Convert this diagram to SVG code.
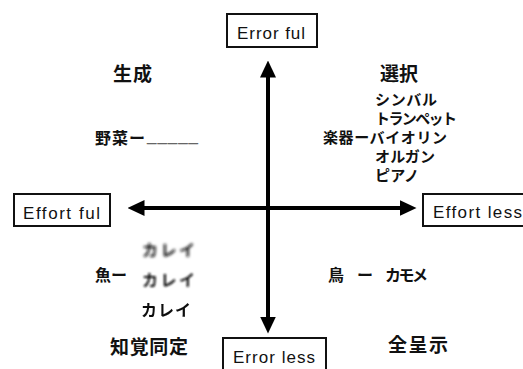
<svg xmlns="http://www.w3.org/2000/svg" width="523" height="369" viewBox="0 0 523 369">
<style>
.box{fill:#fff;stroke:#111;stroke-width:2}
.en{font-family:"Liberation Sans","Noto Sans",sans-serif;font-size:17px;fill:#111}
.jp{font-family:"Noto Sans CJK JP","Noto Sans CJK SC",sans-serif;fill:#111}
.h{font-size:19px;font-weight:700}
.it{font-size:16px;font-weight:700}
.li{font-size:15px;font-weight:700}
.ax{stroke:#000;stroke-width:4;fill:none}
</style>
<defs>
<marker id="ah" markerUnits="userSpaceOnUse" markerWidth="17" markerHeight="16" viewBox="0 0 17 16" refX="0.5" refY="8" orient="auto-start-reverse">
<path d="M0,0 L17,8 L0,16 z" fill="#000"/>
</marker>
<filter id="b1" x="-20%" y="-50%" width="140%" height="200%"><feGaussianBlur stdDeviation="1.6"/></filter>
<filter id="b2" x="-20%" y="-50%" width="140%" height="200%"><feGaussianBlur stdDeviation="0.9"/></filter>
<filter id="b3" x="-20%" y="-50%" width="140%" height="200%"><feGaussianBlur stdDeviation="0.5"/></filter>
</defs>
<rect width="523" height="369" fill="#fff"/>
<g id="connectors">
<line class="ax" x1="268" y1="317" x2="268" y2="77" marker-start="url(#ah)" marker-end="url(#ah)"/>
<line class="ax" x1="144" y1="208" x2="400" y2="208" marker-start="url(#ah)" marker-end="url(#ah)"/>
</g>
<g id="error-ful">
<rect class="box" x="227" y="14" width="90" height="33"/>
<text class="en" x="237" y="39" textLength="68">Error ful</text>
</g>
<g id="error-less">
<rect class="box" x="223" y="338" width="103" height="40"/>
<text class="en" x="233" y="363" textLength="82">Error less</text>
</g>
<g id="effort-ful">
<rect class="box" x="14" y="194" width="96" height="32"/>
<text class="en" x="23" y="219" textLength="77">Effort ful</text>
</g>
<g id="effort-less">
<rect class="box" x="423" y="194" width="110" height="32"/>
<text class="en" x="433" y="218" textLength="89">Effort less</text>
</g>
<g id="q-seisei">
<text class="jp h" x="113" y="81" textLength="39">生成</text>
<text class="jp it" x="95" y="144" textLength="50">野菜ー</text>
<text x="147" y="141" font-family="Liberation Sans,sans-serif" font-size="17" fill="#666" textLength="51">_____</text>
</g>
<g id="q-sentaku">
<text class="jp h" x="380" y="81" textLength="38">選択</text>
<text class="jp li" x="375" y="105" textLength="62">シンバル</text>
<text class="jp li" x="375" y="124" textLength="82">トランペット</text>
<text class="jp li" x="323" y="143" textLength="124">楽器ーバイオリン</text>
<text class="jp li" x="375" y="162" textLength="60">オルガン</text>
<text class="jp li" x="375" y="181" textLength="44">ピアノ</text>
</g>
<g id="q-chikaku">
<text class="jp it" x="95" y="281" textLength="32">魚ー</text>
<text class="jp it" x="142" y="256" textLength="53" fill="#c4c4c4" filter="url(#b1)">カレイ</text>
<text class="jp it" x="142" y="286" textLength="53" fill="#777" filter="url(#b2)">カレイ</text>
<text class="jp it" x="141" y="316" textLength="50" fill="#444" filter="url(#b3)">カレイ</text>
<text class="jp h" x="110" y="354" font-size="20" textLength="78">知覚同定</text>
</g>
<g id="q-zenteiji">
<text class="jp it" x="328" y="281">鳥</text>
<text class="jp it" x="357" y="281" textLength="15">ー</text>
<text class="jp it" x="385" y="281" textLength="43">カモメ</text>
<text class="jp h" x="388" y="352" font-size="20" textLength="60">全呈示</text>
</g>
</svg>
